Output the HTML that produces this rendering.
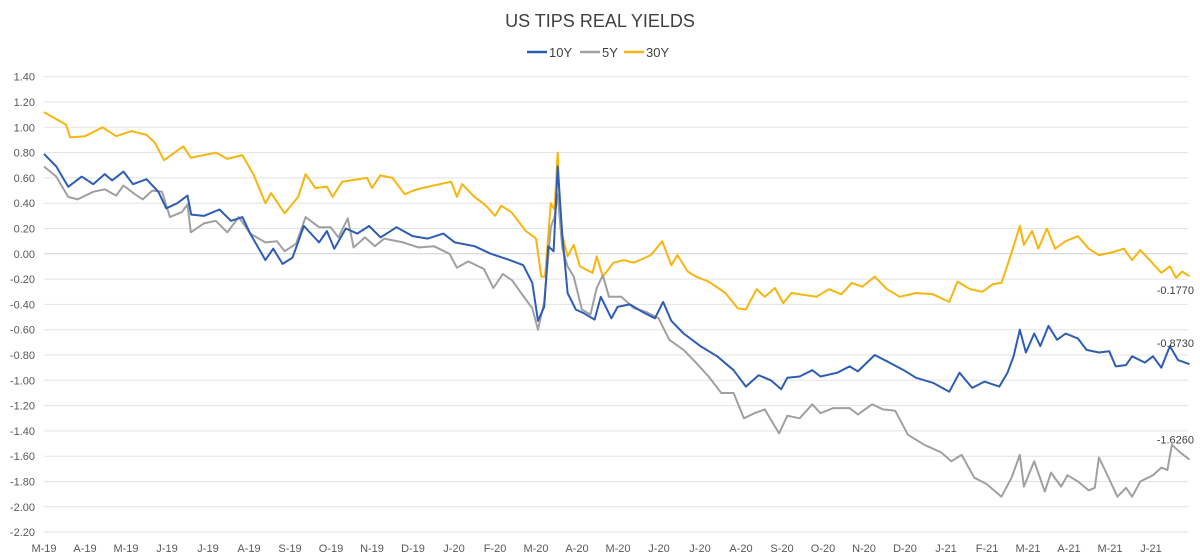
<!DOCTYPE html>
<html><head><meta charset="utf-8">
<style>
html,body{margin:0;padding:0;background:#fff;}
svg{display:block;font-family:"Liberation Sans",sans-serif;}
</style></head>
<body>
<svg id="chart" width="1200" height="559" viewBox="0 0 1200 559">
<text x="600" y="27" text-anchor="middle" font-size="18" fill="#404040">US TIPS REAL YIELDS</text>
<g>
<g><line x1="527" y1="52" x2="547" y2="52" stroke="#2d5db5" stroke-width="2.5"/><text x="549" y="57" font-size="13" fill="#404040">10Y</text></g>
<g><line x1="580" y1="52" x2="600" y2="52" stroke="#a0a0a0" stroke-width="2.5"/><text x="602" y="57" font-size="13" fill="#404040">5Y</text></g>
<g><line x1="624" y1="52" x2="644" y2="52" stroke="#f6b60f" stroke-width="2.5"/><text x="646" y="57" font-size="13" fill="#404040">30Y</text></g>
</g>
<g id="grid"></g>
<g id="yaxis"></g>
<g id="xaxis"></g>
<g id="series"></g>
<g id="labels"></g>
</svg>
<script>
const yTicks = [1.4,1.2,1.0,0.8,0.6,0.4,0.2,0,-0.2,-0.4,-0.6,-0.8,-1.0,-1.2,-1.4,-1.6,-1.8,-2.0,-2.2];
const xTickLabels = ["M-19","A-19","M-19","J-19","J-19","A-19","S-19","O-19","N-19","D-19","J-20","F-20","M-20","A-20","M-20","J-20","J-20","A-20","S-20","O-20","N-20","D-20","J-21","F-21","M-21","A-21","M-21","J-21"];
const m10 = [0,0.3,0.59,0.92,1.2,1.48,1.66,1.94,2.17,2.5,2.79,2.98,3.25,3.5,3.59,3.9,4.28,4.56,4.84,5.03,5.4,5.59,5.82,6.06,6.34,6.71,6.9,7.08,7.36,7.64,7.93,8.21,8.6,8.99,9.36,9.74,10.02,10.5,10.9,11.28,11.69,11.91,12.05,12.2,12.3,12.43,12.53,12.64,12.77,12.97,13.17,13.43,13.58,13.84,13.99,14.29,14.6,14.9,15.1,15.3,15.6,16.01,16.42,16.82,17.12,17.43,17.73,17.98,18.13,18.43,18.74,18.94,19.35,19.65,19.85,20.26,20.56,20.97,21.27,21.68,22.08,22.33,22.64,22.94,23.3,23.5,23.65,23.8,23.95,24.15,24.3,24.5,24.71,24.92,25.22,25.43,25.73,25.98,26.14,26.39,26.54,26.85,27.05,27.25,27.46,27.66,27.94];
const v10 = [0.79,0.69,0.53,0.61,0.55,0.63,0.58,0.65,0.55,0.59,0.49,0.36,0.40,0.46,0.31,0.30,0.35,0.26,0.29,0.16,-0.05,0.04,-0.08,-0.03,0.22,0.09,0.18,0.04,0.20,0.16,0.22,0.13,0.21,0.14,0.12,0.16,0.09,0.06,0.0,-0.04,-0.09,-0.23,-0.53,-0.42,0.06,0.02,0.69,0.16,-0.31,-0.44,-0.47,-0.52,-0.34,-0.51,-0.42,-0.40,-0.46,-0.51,-0.38,-0.53,-0.63,-0.73,-0.81,-0.92,-1.05,-0.96,-1.00,-1.07,-0.98,-0.97,-0.92,-0.97,-0.94,-0.89,-0.93,-0.80,-0.85,-0.92,-0.98,-1.02,-1.09,-0.94,-1.06,-1.01,-1.05,-0.94,-0.81,-0.60,-0.78,-0.63,-0.73,-0.57,-0.68,-0.63,-0.67,-0.76,-0.78,-0.77,-0.89,-0.88,-0.81,-0.86,-0.81,-0.90,-0.73,-0.84,-0.873];
const m5 = [0,0.3,0.59,0.82,1.2,1.48,1.76,1.94,2.22,2.41,2.64,2.88,3.07,3.36,3.5,3.58,3.9,4.19,4.47,4.75,5.03,5.4,5.68,5.87,6.15,6.38,6.71,6.99,7.18,7.41,7.55,7.83,8.07,8.3,8.76,9.14,9.51,9.89,10.07,10.35,10.73,10.96,11.19,11.42,11.68,11.91,12.05,12.2,12.36,12.45,12.53,12.64,12.77,12.92,13.12,13.33,13.48,13.63,13.78,14.08,14.39,14.69,14.99,15.25,15.6,15.9,16.21,16.52,16.82,17.07,17.33,17.58,17.78,17.93,18.13,18.43,18.74,18.94,19.25,19.65,19.85,20.2,20.46,20.76,21.07,21.47,21.88,22.13,22.38,22.69,22.99,23.35,23.6,23.8,23.9,24.15,24.41,24.56,24.81,24.96,25.22,25.48,25.63,25.73,25.98,26.18,26.39,26.54,26.74,27.05,27.25,27.4,27.51,27.71,27.94];
const v5 = [0.69,0.61,0.45,0.43,0.49,0.51,0.46,0.54,0.47,0.43,0.50,0.49,0.29,0.33,0.39,0.17,0.24,0.26,0.17,0.29,0.16,0.09,0.10,0.02,0.08,0.29,0.21,0.21,0.13,0.28,0.05,0.13,0.06,0.12,0.09,0.05,0.06,0.0,-0.11,-0.06,-0.12,-0.27,-0.16,-0.21,-0.33,-0.43,-0.60,-0.38,0.21,0.29,0.47,0.05,-0.10,-0.18,-0.44,-0.48,-0.27,-0.17,-0.34,-0.34,-0.43,-0.46,-0.51,-0.68,-0.76,-0.86,-0.97,-1.10,-1.10,-1.30,-1.26,-1.23,-1.34,-1.42,-1.28,-1.30,-1.19,-1.26,-1.22,-1.22,-1.27,-1.19,-1.23,-1.24,-1.43,-1.51,-1.57,-1.64,-1.59,-1.77,-1.82,-1.92,-1.77,-1.59,-1.84,-1.64,-1.88,-1.73,-1.84,-1.75,-1.80,-1.87,-1.85,-1.61,-1.78,-1.92,-1.85,-1.92,-1.80,-1.75,-1.69,-1.71,-1.51,-1.57,-1.626];
const m30 = [0,0.54,0.64,1.0,1.43,1.76,2.13,2.5,2.7,2.93,3.4,3.58,4.2,4.47,4.84,5.12,5.4,5.54,5.87,6.2,6.38,6.62,6.9,7.04,7.27,7.88,8.0,8.2,8.5,8.8,9.0,9.23,9.93,10.07,10.2,10.5,10.78,11.0,11.15,11.4,11.75,12.0,12.13,12.22,12.36,12.45,12.53,12.6,12.77,12.92,13.07,13.38,13.48,13.63,13.89,14.14,14.39,14.8,15.08,15.3,15.45,15.7,15.9,16.21,16.62,16.92,17.12,17.38,17.58,17.83,18.03,18.23,18.84,19.15,19.45,19.7,19.96,20.26,20.56,20.87,21.27,21.68,22.08,22.28,22.59,22.89,23.14,23.35,23.5,23.65,23.8,23.9,24.1,24.25,24.46,24.66,24.92,25.22,25.48,25.73,26.04,26.34,26.54,26.74,27.0,27.25,27.46,27.61,27.76,27.94];
const v30 = [1.12,1.02,0.92,0.93,1.0,0.93,0.97,0.94,0.88,0.74,0.85,0.76,0.80,0.75,0.78,0.62,0.40,0.48,0.32,0.45,0.63,0.52,0.53,0.45,0.57,0.60,0.52,0.62,0.60,0.47,0.50,0.52,0.57,0.45,0.55,0.45,0.38,0.30,0.38,0.33,0.18,0.12,-0.18,-0.18,0.40,0.35,0.80,0.20,-0.02,0.07,-0.10,-0.15,-0.02,-0.18,-0.07,-0.05,-0.07,-0.01,0.10,-0.09,-0.01,-0.14,-0.18,-0.22,-0.31,-0.43,-0.44,-0.28,-0.34,-0.27,-0.39,-0.31,-0.34,-0.28,-0.32,-0.23,-0.26,-0.18,-0.28,-0.34,-0.31,-0.32,-0.38,-0.22,-0.28,-0.30,-0.24,-0.23,-0.09,0.06,0.22,0.07,0.18,0.04,0.20,0.04,0.10,0.14,0.04,-0.01,0.01,0.04,-0.05,0.03,-0.06,-0.15,-0.10,-0.19,-0.14,-0.177];
const endLabels = ["-0.1770","-0.8730","-1.6260"];

const NS = "http://www.w3.org/2000/svg";
const X0 = 44, MPX = 41.0, Y0 = 253.8, YPX = 126.5, XR = 1188;
const xs = m => X0 + m * MPX;
const ys = v => Y0 - v * YPX;
function mk(tag, attrs, parent) {
  const e = document.createElementNS(NS, tag);
  for (const k in attrs) e.setAttribute(k, attrs[k]);
  parent.appendChild(e);
  return e;
}
const grid = document.getElementById('grid'), yax = document.getElementById('yaxis'), xax = document.getElementById('xaxis');
yTicks.forEach(t => {
  const ln = mk('line', {x1: X0, x2: XR, y1: ys(t), y2: ys(t), stroke: t === 0 ? '#d0d0d0' : '#e3e3e3', 'stroke-width': 1}, grid);
  
  
  const tx = mk('text', {x: 35, y: ys(t) + 4, 'text-anchor': 'end', 'font-size': 11, fill: '#595959'}, yax);
  tx.textContent = t.toFixed(2);
  
  
});
xTickLabels.forEach((l, i) => {
  const tx = mk('text', {x: xs(i), y: 552, 'text-anchor': 'middle', 'font-size': 11, fill: '#595959'}, xax);
  tx.textContent = l;
  
  
});
const ser = document.getElementById('series');
function line(ms, vs, color, name) {
  const d = ms.map((m, i) => (i ? 'L' : 'M') + xs(m).toFixed(1) + ' ' + ys(vs[i]).toFixed(1)).join(' ');
  const p = mk('path', {d: d, fill: 'none', stroke: color, 'stroke-width': 2, 'stroke-linejoin': 'round'}, ser);
  
  
}
line(m30, v30, '#f6b60f', 'series-30y-line');
line(m5, v5, '#a0a0a0', 'series-5y-line');
line(m10, v10, '#2d5db5', 'series-10y-line');
const lab = document.getElementById('labels');
const lastVals = [v30[v30.length - 1], v10[v10.length - 1], v5[v5.length - 1]];
const offs = [14, -21, -20];
endLabels.forEach((s, i) => {
  const tx = mk('text', {x: 1194, y: ys(lastVals[i]) + offs[i] + 4, 'text-anchor': 'end', 'font-size': 11, fill: '#404040'}, lab);
  tx.textContent = s;
  
  
});
</script>
</body></html>
